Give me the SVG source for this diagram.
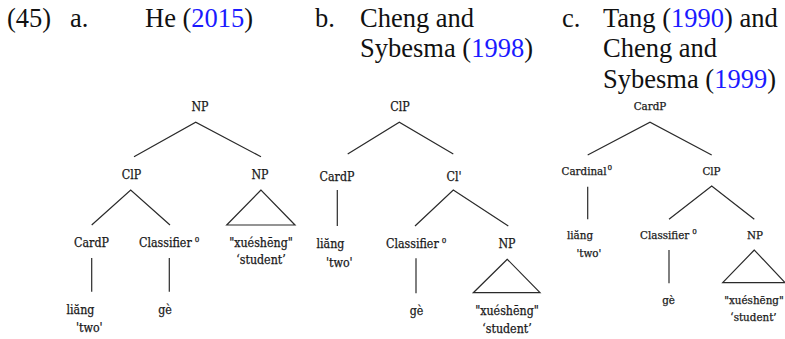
<svg xmlns="http://www.w3.org/2000/svg" width="785" height="339" viewBox="0 0 785 339">
  <style>
    .hd { font-family: "Liberation Serif", "Times New Roman", serif; font-size: 26.5px; fill: #111; }
    .yr { fill: #1a1aff; }
    .lb { font-family: "DejaVu Serif Condensed", "DejaVu Serif", serif; font-stretch: condensed; font-size: 12.3px; fill: #1a1a1a; stroke: #1a1a1a; stroke-width: 0.25; }
    .lc { font-family: "DejaVu Serif Condensed", "DejaVu Serif", serif; font-stretch: condensed; font-size: 11.5px; fill: #1a1a1a; stroke: #1a1a1a; stroke-width: 0.25; }
    .sup { font-size: 8px; }
    .mid { text-anchor: middle; }
    .br { stroke: #2a2a2a; stroke-width: 1.2; fill: none; }
  </style>
  <rect width="785" height="339" fill="#fff"/>

  <!-- Headings -->
  <g id="headings">
    <text class="hd" x="7" y="26.5">(45)</text>
    <text class="hd" x="70" y="26.5">a.</text>
    <text class="hd" x="145" y="26.5">He (<tspan class="yr">2015</tspan>)</text>
    <text class="hd" x="315" y="26.5">b.</text>
    <text class="hd" x="360" y="26.5">Cheng and</text>
    <text class="hd" x="360" y="57">Sybesma (<tspan class="yr">1998</tspan>)</text>
    <text class="hd" x="562" y="26.5">c.</text>
    <text class="hd" x="603" y="26.5">Tang (<tspan class="yr">1990</tspan>) and</text>
    <text class="hd" x="603" y="57">Cheng and</text>
    <text class="hd" x="603" y="87.5">Sybesma (<tspan class="yr">1999</tspan>)</text>
  </g>

  <!-- Tree a -->
  <g id="tree-a">
    <g id="a-np"><text class="lb mid" x="200" y="111">NP</text></g>
    <g id="a-clp"><text class="lb mid" x="131.5" y="179">ClP</text></g>
    <g id="a-np2"><text class="lb mid" x="260" y="179">NP</text></g>
    <g id="a-cardp"><text class="lb mid" x="91.5" y="247">CardP</text></g>
    <g id="a-cl0"><text class="lb" x="139" y="247">Classifier<tspan class="sup" dx="3" dy="-5">0</tspan></text></g>
    <g id="a-student"><text class="lb mid" x="261" y="247">"xuéshēng"</text><text class="lb mid" x="261" y="264">‘student’</text></g>
    <g id="a-liang"><text class="lb" x="66.5" y="314">liăng</text><text class="lb" x="76" y="332">'two'</text></g>
    <g id="a-ge"><text class="lb mid" x="165" y="314">gè</text></g>
  </g>

  <!-- Tree b -->
  <g id="tree-b">
    <g id="b-clp"><text class="lb mid" x="400" y="111">ClP</text></g>
    <g id="b-cardp"><text class="lb mid" x="337" y="181">CardP</text></g>
    <g id="b-clbar"><text class="lb mid" x="454" y="181">Cl'</text></g>
    <g id="b-liang"><text class="lb" x="316.5" y="248">liăng</text><text class="lb" x="326" y="267">'two'</text></g>
    <g id="b-cl0"><text class="lb" x="386" y="248">Classifier<tspan class="sup" dx="3" dy="-5">0</tspan></text></g>
    <g id="b-np"><text class="lb mid" x="507" y="248">NP</text></g>
    <g id="b-ge"><text class="lb mid" x="416.5" y="315">gè</text></g>
    <g id="b-student"><text class="lb mid" x="507" y="315">"xuéshēng"</text><text class="lb mid" x="507" y="333">‘student’</text></g>
  </g>

  <!-- Tree c -->
  <g id="tree-c">
    <g id="c-cardp"><text class="lc mid" x="650" y="110">CardP</text></g>
    <g id="c-card0"><text class="lc" x="561.5" y="175">Cardinal<tspan class="sup" dx="1" dy="-5">0</tspan></text></g>
    <g id="c-clp"><text class="lc mid" x="711.5" y="175">ClP</text></g>
    <g id="c-liang"><text class="lc" x="567" y="239">liăng</text><text class="lc" x="576.5" y="257">'two'</text></g>
    <g id="c-cl0"><text class="lc" x="640" y="239">Classifier<tspan class="sup" dx="3" dy="-5">0</tspan></text></g>
    <g id="c-np"><text class="lc mid" x="755" y="239">NP</text></g>
    <g id="c-ge"><text class="lc mid" x="668.5" y="304">gè</text></g>
    <g id="c-student"><text class="lc mid" x="754" y="304">"xuéshēng"</text><text class="lc mid" x="753.5" y="321">‘student’</text></g>
  </g>

  <!-- Branches -->
  <g id="connectors" class="br">
    <!-- tree a -->
    <polyline points="134,156.7 195.7,122.3 261,156.7"/>
    <polyline points="91.7,225 130.7,190 170,225"/>
    <polygon points="261,190 226.7,225 295,225"/>
    <line x1="91.7" y1="258" x2="91.7" y2="291.7"/>
    <line x1="169.3" y1="258" x2="169.3" y2="291.7"/>
    <!-- tree b -->
    <polyline points="347.7,154 399.3,122.3 453.3,154"/>
    <line x1="337.3" y1="190" x2="337.3" y2="226"/>
    <polyline points="415,226 453.3,190 508.3,226"/>
    <line x1="416" y1="258.3" x2="416" y2="293.3"/>
    <polygon points="507.3,259.3 473.3,292.7 540,292.7"/>
    <!-- tree c -->
    <polyline points="587.7,155 650,122.3 711.7,155"/>
    <line x1="587.7" y1="186.7" x2="587.7" y2="219.3"/>
    <polyline points="669,219.3 711.7,186 754.3,219.3"/>
    <line x1="669" y1="250" x2="669" y2="283.3"/>
    <polygon points="754.3,250 722.7,282.7 785,282.7"/>
  </g>
</svg>
